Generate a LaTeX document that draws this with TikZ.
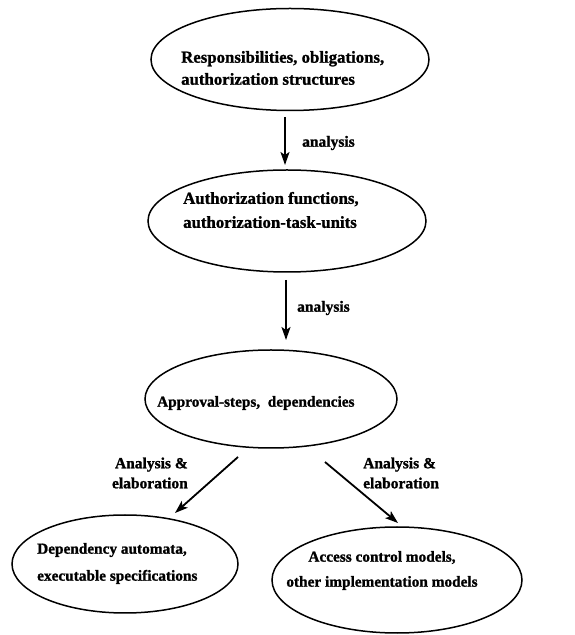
\documentclass[tikz,border=0pt]{standalone}
\usepackage{fontspec}
\setmainfont{Liberation Serif}[BoldFeatures={FakeBold=1.2}]
\usetikzlibrary{shapes.geometric,arrows.meta}
\begin{document}
\begin{tikzpicture}[x=1pt,y=1pt,
  ell/.style={draw, ellipse, line width=1.5pt, inner sep=0pt},
  bigtxt/.style={inner sep=0pt, font=\bfseries\fontsize{16.8}{22}\selectfont},
  midtxt/.style={inner sep=0pt, font=\bfseries\fontsize{15.3}{27}\selectfont},
  lbl/.style={inner sep=0pt, font=\bfseries\fontsize{15.5}{20}\selectfont},
  arr/.style={line width=1.8pt, -{Stealth[length=13pt,width=9pt,inset=3pt]}}
]
\useasboundingbox (0,0) rectangle (574,635);
% ellipses
\node[ell, minimum width=278pt, minimum height=102pt] (e1) at (290,575.5) {};
\node[ell, minimum width=278pt, minimum height=102pt] (e2) at (287,414) {};
\node[ell, minimum width=252pt, minimum height=98pt] (e3) at (271,236) {};
\node[ell, minimum width=226pt, minimum height=98pt] (e4) at (125,71) {};
\node[ell, minimum width=250pt, minimum height=106pt] (e5) at (397,55) {};
% texts
\node[bigtxt, anchor=west, align=left] (t1) at (181,567) {Responsibilities, obligations,\\authorization structures};
\node[bigtxt, anchor=west, align=left, font=\bfseries\fontsize{16.8}{24}\selectfont] (t2) at (183,425) {Authorization functions,\\authorization-task-units};
\node[midtxt, anchor=west] (t3) at (157,232) {Approval-steps,\ \ dependencies};
\node[midtxt, anchor=west, align=left] (t4) at (37,71.5) {Dependency automata,\\executable specifications};
\node[midtxt, align=center, font=\bfseries\fontsize{15.3}{25}\selectfont] (t5) at (382,64.5) {Access control models,\\other implementation models};
% arrow endpoints
\coordinate (a1s) at (285,518);
\coordinate (a1e) at (285,470);
\coordinate (a2s) at (286,355);
\coordinate (a2e) at (286,295);
\coordinate (a3s) at (238,178);
\coordinate (a3e) at (175,122);
\coordinate (a4s) at (325,173);
\coordinate (a4e) at (398,112);
\draw[arr] (a1s) -- (a1e);
\draw[arr] (a2s) -- (a2e);
\draw[arr] (a3s) -- (a3e);
\draw[arr] (a4s) -- (a4e);
% labels
\node[lbl, anchor=west] (l1) at (302,492) {analysis};
\node[lbl, anchor=west] (l2) at (297,327) {analysis};
\node[lbl, anchor=east, align=right] (l3) at (188,162) {Analysis \&\\elaboration};
\node[lbl, anchor=west, align=left] (l4) at (363,162) {Analysis \&\\elaboration};
\end{tikzpicture}
\end{document}
